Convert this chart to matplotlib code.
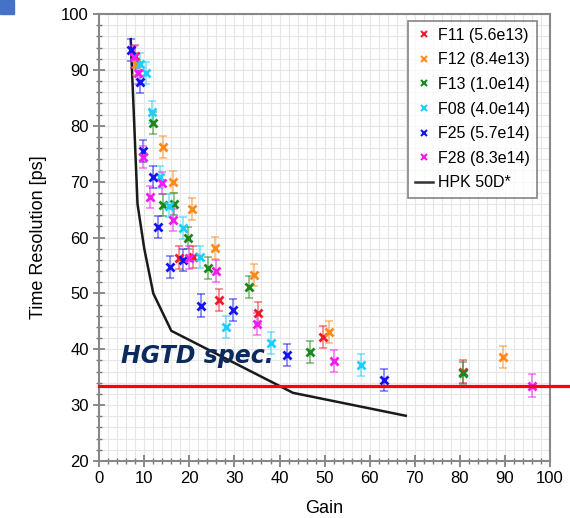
import matplotlib.pyplot as plt
from matplotlib.lines import Line2D
from matplotlib.patches import Rectangle

# data
f11_gain = [8.0, 17.7, 20.8, 26.6, 35.3, 49.7, 80.7]
f11_res = [92.5, 56.4, 56.5, 48.8, 46.5, 42.2, 36.0]

f12_gain = [8.2, 14.2, 16.4, 20.6, 25.7, 34.4, 51.0, 89.6]
f12_res = [91.0, 76.2, 69.9, 65.1, 58.1, 53.3, 43.1, 38.6]

f13_gain = [12.0, 14.2, 16.6, 19.7, 24.2, 33.3, 46.8, 80.7]
f13_res = [80.5, 65.8, 66.0, 59.9, 54.6, 51.2, 39.5, 35.8]

f08_gain = [9.0, 10.4, 11.8, 13.5, 15.5, 18.6, 22.4, 28.2, 38.1, 58.1]
f08_res = [91.0, 89.4, 82.5, 70.8, 65.7, 61.7, 56.5, 44.0, 41.1, 37.2]

f25_gain = [7.1, 9.1, 9.8, 12.0, 13.1, 15.7, 18.6, 22.6, 29.7, 41.7, 63.2]
f25_res = [93.6, 87.8, 75.5, 70.8, 61.9, 54.7, 56.0, 47.8, 47.0, 39.0, 34.5]

f28_gain = [7.8, 8.6, 9.8, 11.3, 14.0, 16.4, 20.0, 25.9, 35.0, 52.1, 96.0]
f28_res = [92.3, 89.4, 74.4, 67.3, 69.8, 63.1, 56.4, 54.0, 44.5, 37.9, 33.5]

hpk_gain = [7.0, 8.5, 10.0, 12.0, 16.0, 43.0, 68.0]
hpk_res = [95.5, 66.0, 58.0, 50.0, 43.3, 32.2, 28.1]

series = [
    ("F11 (5.6e13)", f11_gain, f11_res, "#f01c2c"),
    ("F12 (8.4e13)", f12_gain, f12_res, "#ff8a1c"),
    ("F13 (1.0e14)", f13_gain, f13_res, "#1d861d"),
    ("F08 (4.0e14)", f08_gain, f08_res, "#1ccfff"),
    ("F25 (5.7e14)", f25_gain, f25_res, "#1414f0"),
    ("F28 (8.3e14)", f28_gain, f28_res, "#f01cf0"),
]
res_err = 2.0
hgtd_spec = 33.5

plt.rcParams['font.family'] = ['Liberation Sans', 'DejaVu Sans']

fig = plt.figure(figsize=(5.7, 5.18), dpi=100)
ax = fig.add_axes([0.174, 0.110, 0.791, 0.863])

# little blue square from the slide
fig.patches.append(Rectangle((0, 0.973), 0.025, 0.027, transform=fig.transFigure,
                             color="#4472c4", zorder=0))

handles = []
for label, g, r, c in series:
    ax.errorbar(g, r, yerr=res_err, fmt="none", ecolor=c, alpha=0.55,
                elinewidth=1.2, capsize=3, capthick=1.2, zorder=3)
    ax.plot(g, r, "x", color=c, ms=6, mew=2, zorder=4)
    handles.append(Line2D([], [], ls="none", marker="x", color=c, ms=4, mew=1.5, label=label))

ax.plot(hpk_gain, hpk_res, color="#1a1a1a", lw=1.8, zorder=2)
handles.append(Line2D([], [], color="#333333", lw=1.8, label="HPK 50D*"))

# HGTD spec line, runs out to the figure edge
ax.plot([0, 1.045], [hgtd_spec, hgtd_spec], color="#ff0000", lw=2.3,
        transform=ax.get_yaxis_transform(), clip_on=False, zorder=5)
ax.text(21.8, 38.8, "HGTD spec.", fontsize=17, fontweight="bold", style="italic",
        color="#0c2a5c", ha="center", va="center", family=["DejaVu Sans"], zorder=6)

ax.set_xlim(0, 100)
ax.set_ylim(20, 100)
ax.set_xticks(range(0, 101, 10))
ax.set_yticks(range(20, 101, 10))
ax.set_xticks(range(0, 101, 2), minor=True)
ax.set_yticks(range(20, 101, 2), minor=True)
ax.grid(which="both", color="#e6e6e6", lw=0.8, zorder=0)
ax.set_axisbelow(True)

ax.tick_params(which="major", direction="inout", length=8, width=1.2, color="#777777",
               labelsize=12, top=False, right=False)
ax.tick_params(which="minor", direction="inout", length=5, width=1.0, color="#777777",
               top=False, right=False)
for s in ax.spines.values():
    s.set_color("#888888")
    s.set_linewidth(1.5)

ax.set_xlabel("Gain", fontsize=13, labelpad=10)
ax.set_ylabel("Time Resolution [ps]", fontsize=13, labelpad=10)

leg = ax.legend(handles=handles, loc="upper right", bbox_to_anchor=(0.971, 0.985),
                borderaxespad=0, fontsize=11.5, frameon=True, fancybox=False,
                handlelength=1.1, handletextpad=0.3, labelspacing=0.6, borderpad=0.45)
leg.get_frame().set_edgecolor("#666666")
leg.get_frame().set_linewidth(1.2)

fig.savefig("out.png", dpi=100)
